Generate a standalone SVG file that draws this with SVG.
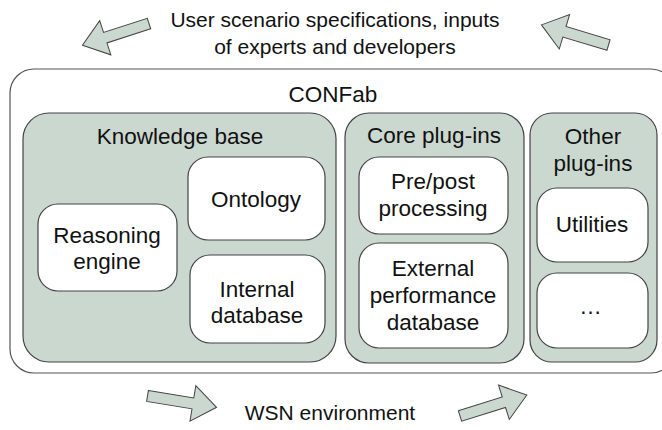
<svg xmlns="http://www.w3.org/2000/svg" width="662" height="430" viewBox="0 0 662 430">
  <style>
    text { font-family: "Liberation Sans", Arial, sans-serif; font-size: 22.5px; fill: #111; text-anchor: middle; }
    text.side { font-size: 21px; }
    .outer { fill: #fff; stroke: #555; stroke-width: 1.2; }
    .group { fill: #cbd8cf; stroke: #444; stroke-width: 1.2; }
    .item { fill: #fff; stroke: #444; stroke-width: 1.2; }
    .flow { fill: #cbd8cf; stroke: #444; stroke-width: 1; stroke-linejoin: miter; }
  </style>
  <defs>
    <!-- block arrow along +x, tail at origin, length 70 -->
    <path id="blockArrow" d="M0,-5.5 L46,-5.5 L46,-18 L70,0 L46,18 L46,5.5 L0,5.5 Z"/>
  </defs>

  <!-- connectors: block arrows in and out of the framework -->
  <g id="connectors">
    <use href="#blockArrow" class="flow" transform="translate(149,23.5) rotate(162)"/>
    <use href="#blockArrow" class="flow" transform="translate(608.5,45) rotate(196.7)"/>
    <use href="#blockArrow" class="flow" transform="translate(147.5,396) rotate(9.3)"/>
    <use href="#blockArrow" class="flow" transform="translate(460,416) rotate(-17.4)"/>
  </g>

  <g id="inputs-label">
    <text class="side" x="335" y="27">User scenario specifications, inputs</text>
    <text class="side" x="335" y="54">of experts and developers</text>
  </g>

  <g id="confab">
    <rect class="outer" x="10" y="69" width="665" height="304" rx="24"/>
    <text x="333" y="102">CONFab</text>
  </g>

  <g id="knowledge-base">
    <rect class="group" x="23" y="113" width="313" height="249" rx="26"/>
    <text x="180" y="144">Knowledge base</text>
  </g>
  <g id="reasoning-engine">
    <rect class="item" x="38" y="204" width="139" height="87" rx="20"/>
    <text x="107" y="243">Reasoning</text>
    <text x="107" y="269">engine</text>
  </g>
  <g id="ontology">
    <rect class="item" x="188" y="157" width="137" height="83" rx="20"/>
    <text x="256" y="207">Ontology</text>
  </g>
  <g id="internal-database">
    <rect class="item" x="190" y="255" width="135" height="88" rx="20"/>
    <text x="257" y="297">Internal</text>
    <text x="257" y="323">database</text>
  </g>

  <g id="core-plugins">
    <rect class="group" x="345" y="113" width="179" height="250" rx="24"/>
    <text x="434" y="143">Core plug-ins</text>
  </g>
  <g id="pre-post-processing">
    <rect class="item" x="359" y="157" width="149" height="77" rx="20"/>
    <text x="433" y="189">Pre/post</text>
    <text x="433" y="216">processing</text>
  </g>
  <g id="external-performance-database">
    <rect class="item" x="359" y="243" width="149" height="105" rx="20"/>
    <text x="433" y="276">External</text>
    <text x="433" y="303">performance</text>
    <text x="433" y="330">database</text>
  </g>

  <g id="other-plugins">
    <rect class="group" x="530" y="113" width="127" height="249" rx="22"/>
    <text x="593" y="144">Other</text>
    <text x="593" y="171">plug-ins</text>
  </g>
  <g id="utilities">
    <rect class="item" x="537" y="188" width="111" height="74" rx="20"/>
    <text x="592" y="232">Utilities</text>
  </g>
  <g id="more">
    <rect class="item" x="537" y="273" width="111" height="75" rx="20"/>
    <text x="592" y="314" letter-spacing="3">…</text>
  </g>

  <g id="wsn-label">
    <text class="side" x="330" y="420">WSN environment</text>
  </g>
</svg>
